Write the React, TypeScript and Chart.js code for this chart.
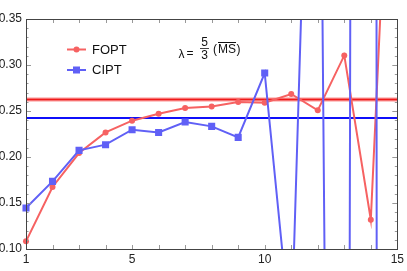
import React, { useEffect, useRef } from 'react';
import { Chart, registerables } from 'chart.js';

Chart.register(...registerables);

// ---- data ----
const orders = [1, 2, 3, 4, 5, 6, 7, 8, 9, 10, 11, 12, 13, 14, 15];
const fopt = [0.1083, 0.1674, 0.2043, 0.2267, 0.2395, 0.2471, 0.2533, 0.2550, 0.2598, 0.2590, 0.2685, 0.2507, 0.3104, 0.1318, 0.75];
const cipt = [0.1446, 0.1735, 0.2072, 0.2134, 0.2297, 0.2267, 0.2380, 0.2333, 0.2213, 0.2913, 0.0, 0.95, -2.4, 9.8, -34];
const foptAvg = 0.2625;
const foptBand = 0.0027;
const ciptAvg = 0.2425;
const xTickLabels = [1, 5, 10, 15];
const yTickLabels = [0.10, 0.15, 0.20, 0.25, 0.30, 0.35];
const seriesNames = ['FOPT', 'CIPT'];

const X_MIN = 1, X_MAX = 15, Y_MIN = 0.10, Y_MAX = 0.35;

const RED = 'rgb(246,98,98)';
const BLUE = 'rgb(96,96,246)';
const FONT = '"Liberation Sans", Arial, sans-serif';

const flat = (v: number) => [{ x: X_MIN, y: v }, { x: X_MAX, y: v }];

const framePlugin = {
  id: 'frameTicks',
  afterDatasetsDraw(chart: any) {
    const { ctx, chartArea: a, scales } = chart;
    const xs = scales.x, ys = scales.y;
    ctx.save();
    // ticks
    ctx.strokeStyle = '#999';
    ctx.lineWidth = 1;
    ctx.beginPath();
    for (let i = 1; i <= 15; i++) {
      const px = Math.round(xs.getPixelForValue(i)) + 0.5;
      ctx.moveTo(px, a.bottom); ctx.lineTo(px, a.bottom - 4);
      ctx.moveTo(px, a.top); ctx.lineTo(px, a.top + 4);
    }
    for (let k = 10; k <= 35; k++) {
      const v = k / 100;
      const py = Math.round(ys.getPixelForValue(v)) + 0.5;
      const len = k % 5 === 0 ? 5 : 2.5;
      ctx.moveTo(a.left, py); ctx.lineTo(a.left + len, py);
      ctx.moveTo(a.right, py); ctx.lineTo(a.right - len, py);
    }
    ctx.stroke();
    // frame
    ctx.strokeStyle = '#444';
    ctx.strokeRect(Math.round(a.left) + 0.5, Math.round(a.top) + 0.5, Math.round(a.right - a.left), Math.round(a.bottom - a.top));
    ctx.restore();
  },
  afterDraw(chart: any) {
    const { ctx } = chart;
    ctx.save();
    // legend
    const items = [
      { name: seriesNames[0], color: RED, y: 49.5, shape: 'circle' },
      { name: seriesNames[1], color: BLUE, y: 70, shape: 'rect' },
    ];
    ctx.font = `13px ${FONT}`;
    ctx.textBaseline = 'middle';
    for (const it of items) {
      ctx.strokeStyle = it.color;
      ctx.fillStyle = it.color;
      ctx.lineWidth = 2;
      ctx.beginPath();
      ctx.moveTo(67, it.y); ctx.lineTo(86, it.y);
      ctx.stroke();
      if (it.shape === 'circle') {
        ctx.beginPath(); ctx.arc(76.5, it.y, 3, 0, Math.PI * 2); ctx.fill();
      } else {
        ctx.fillRect(73, it.y - 3.5, 7, 7);
      }
      ctx.fillStyle = '#111';
      ctx.fillText(it.name, 92, it.y + 0.5);
    }
    // annotation  λ = 5/3 (MS-bar)
    ctx.fillStyle = '#111';
    ctx.strokeStyle = '#111';
    ctx.textBaseline = 'alphabetic';
    ctx.font = `12px ${FONT}`;
    ctx.textAlign = 'left';
    ctx.fillText('\u03bb', 178.5, 58);
    ctx.fillText('=', 186.5, 57);
    ctx.textAlign = 'center';
    ctx.fillText('5', 204.5, 45.5);
    ctx.fillText('3', 204.5, 59);
    ctx.lineWidth = 0.8;
    ctx.beginPath(); ctx.moveTo(200, 48.5); ctx.lineTo(209, 48.5); ctx.stroke();
    ctx.textAlign = 'left';
    ctx.fillText('(', 213, 53);
    ctx.fillText('MS', 218, 53);
    const msw = ctx.measureText('MS').width;
    ctx.fillText(')', 218 + msw + 0.5, 53);
    ctx.lineWidth = 1;
    ctx.beginPath(); ctx.moveTo(218, 42.5); ctx.lineTo(218 + msw, 42.5); ctx.stroke();
    ctx.restore();
  },
};

export default function App() {
  const ref = useRef<HTMLCanvasElement | null>(null);
  useEffect(() => {
    if (!ref.current) return;
    const clip = { left: 4, top: 0, right: 0, bottom: 0 };
    const chart = new Chart(ref.current, {
      type: 'line',
      data: {
        datasets: [
          {
            label: seriesNames[1],
            data: orders.map((x, i) => ({ x, y: cipt[i] })),
            borderColor: BLUE, backgroundColor: BLUE, borderWidth: 2,
            pointStyle: 'rect', pointRadius: 5, pointBorderWidth: 0,
            tension: 0, clip, order: 0,
          },
          {
            label: seriesNames[0],
            data: orders.map((x, i) => ({ x, y: fopt[i] })),
            borderColor: RED, backgroundColor: RED, borderWidth: 2,
            pointStyle: 'circle', pointRadius: 3, pointBorderWidth: 0,
            tension: 0, clip, order: 1,
          },
          {
            label: 'FOPT avg',
            data: flat(foptAvg),
            borderColor: 'rgb(240,25,25)', borderWidth: 2, pointRadius: 0, clip: 0, order: 2,
          },
          {
            label: 'CIPT avg',
            data: flat(ciptAvg),
            borderColor: 'rgb(15,15,250)', borderWidth: 2, pointRadius: 0, clip: 0, order: 3,
          },
          {
            label: 'band low',
            data: flat(foptAvg - foptBand),
            borderWidth: 0, borderColor: 'rgba(0,0,0,0)', pointRadius: 0, clip: 0, order: 4,
          },
          {
            label: 'band high',
            data: flat(foptAvg + foptBand),
            borderWidth: 0, borderColor: 'rgba(0,0,0,0)', pointRadius: 0, clip: 0, order: 5,
            fill: '-1', backgroundColor: 'rgba(250,120,120,0.4)',
          },
        ],
      },
      options: {
        animation: false,
        responsive: false,
        devicePixelRatio: 1,
        layout: { padding: { top: 19, right: 8, left: 0, bottom: 0 } },
        plugins: { legend: { display: false }, tooltip: { enabled: false } },
        scales: {
          x: {
            type: 'linear', min: X_MIN, max: X_MAX,
            grid: { display: false, drawTicks: false },
            border: { display: false },
            ticks: {
              stepSize: 1, autoSkip: false, maxRotation: 0, padding: 3,
              color: '#222', font: { family: FONT, size: 12 },
              callback: (v: any) => (xTickLabels.includes(Number(v)) ? String(v) : ''),
            },
            afterFit: (s: any) => { s.height = 22; },
          },
          y: {
            type: 'linear', min: Y_MIN, max: Y_MAX,
            grid: { display: false, drawTicks: false },
            border: { display: false },
            ticks: {
              stepSize: 0.05, padding: 4,
              color: '#222', font: { family: FONT, size: 12 },
              callback: (v: any) => {
                const n = Number(v);
                return yTickLabels.some((t) => Math.abs(t - n) < 1e-9) ? n.toFixed(2) : '';
              },
            },
            afterFit: (s: any) => { s.width = 26; },
          },
        },
      },
      plugins: [framePlugin],
    } as any);
    return () => chart.destroy();
  }, []);
  return (
    <div style={{ position: 'fixed', left: 0, top: 0, width: 407, height: 271, background: '#fff' }}>
      <canvas ref={ref} width={407} height={271} style={{ width: 407, height: 271, display: 'block' }} />
    </div>
  );
}
